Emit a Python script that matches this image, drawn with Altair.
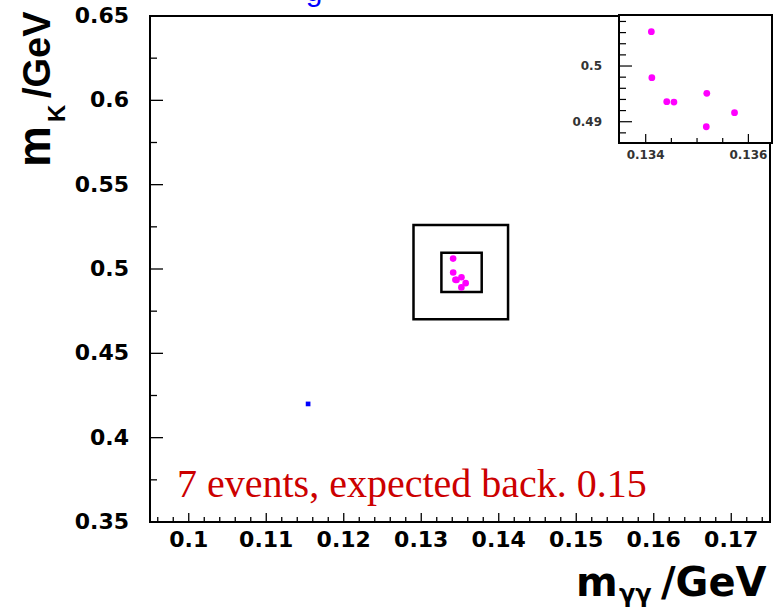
import altair as alt
import pandas as pd

# selected K -> pi0 candidates (m_gamma_gamma, m_K) in GeV
m_gg = [0.13411, 0.13412, 0.13441, 0.13455, 0.13519, 0.13573, 0.13518]
m_k = [0.50616, 0.49790, 0.49359, 0.49353, 0.49510, 0.49162, 0.48910]

# single event outside the signal region
out_gg = [0.1154]
out_k = [0.420]

# outer and inner signal boxes
box_x1 = [0.1290, 0.1326]
box_x2 = [0.1412, 0.1378]
box_y1 = [0.4702, 0.4864]
box_y2 = [0.5261, 0.5097]

# main axes
x_major = [0.10, 0.11, 0.12, 0.13, 0.14, 0.15, 0.16, 0.17]
x_labels = ["0.1", "0.11", "0.12", "0.13", "0.14", "0.15", "0.16", "0.17"]
x_minor = [0.096, 0.098, 0.102, 0.104, 0.106, 0.108, 0.112, 0.114, 0.116, 0.118,
           0.122, 0.124, 0.126, 0.128, 0.132, 0.134, 0.136, 0.138, 0.142, 0.144,
           0.146, 0.148, 0.152, 0.154, 0.156, 0.158, 0.162, 0.164, 0.166, 0.168,
           0.172, 0.174]
y_major = [0.35, 0.40, 0.45, 0.50, 0.55, 0.60, 0.65]
y_labels = ["0.35", "0.4", "0.45", "0.5", "0.55", "0.6", "0.65"]
y_minor = [0.375, 0.425, 0.475, 0.525, 0.575, 0.625]

# zoomed panel axes
ix_major = [0.134, 0.136]
ix_minor = [0.1345, 0.1350, 0.1355]
ix_labels = ["0.134", "0.136"]
iy_major = [0.49, 0.50]
iy_minor = [0.488, 0.492, 0.494, 0.496, 0.498, 0.502, 0.504, 0.506, 0.508]
iy_labels = ["0.49", "0.5"]

W, H = 620, 506
X_DOM = [0.095, 0.175]
Y_DOM = [0.35, 0.65]
IX_DOM = [0.13348, 0.13646]
IY_DOM = [0.48618, 0.50916]
IX_RANGE = [469, 622]
IY_RANGE = [127, -1]

MAGENTA = "#ff00ff"
LABEL_FONT = "DejaVu Sans"

xs = alt.Scale(domain=X_DOM, nice=False, zero=False)
ys = alt.Scale(domain=Y_DOM, nice=False, zero=False)
ixs = alt.Scale(domain=IX_DOM, range=IX_RANGE, nice=False, zero=False)
iys = alt.Scale(domain=IY_DOM, range=IY_RANGE, nice=False, zero=False)

events = pd.DataFrame({"m_gg": m_gg, "m_k": m_k})
outlier = pd.DataFrame({"m_gg": out_gg, "m_k": out_k})
boxes = pd.DataFrame({"x1": box_x1, "x2": box_x2, "y1": box_y1, "y2": box_y2})
one = pd.DataFrame({"a": [0]})

# candidate events on the full plane
main_pts = alt.Chart(events).mark_circle(size=44, color=MAGENTA, opacity=1).encode(
    x=alt.X("m_gg:Q", scale=xs, axis=None),
    y=alt.Y("m_k:Q", scale=ys, axis=None),
)

out_pt = alt.Chart(outlier).mark_square(size=22, color="#0000ff", opacity=1).encode(
    x=alt.X("m_gg:Q", scale=xs, axis=None),
    y=alt.Y("m_k:Q", scale=ys, axis=None),
)

box_marks = alt.Chart(boxes).mark_rect(filled=False, stroke="black", strokeWidth=2.5).encode(
    x=alt.X("x1:Q", scale=xs, axis=None), x2="x2:Q",
    y=alt.Y("y1:Q", scale=ys, axis=None), y2="y2:Q",
)


def xticks(vals, length):
    return alt.Chart(pd.DataFrame({"v": vals})).mark_rule(color="black", strokeWidth=1.3).encode(
        x=alt.X("v:Q", scale=xs, axis=None), y=alt.value(H), y2=alt.value(H - length))


def yticks(vals, length):
    return alt.Chart(pd.DataFrame({"v": vals})).mark_rule(color="black", strokeWidth=1.3).encode(
        y=alt.Y("v:Q", scale=ys, axis=None), x=alt.value(0), x2=alt.value(length))


x_text = alt.Chart(pd.DataFrame({"v": x_major, "t": x_labels})).mark_text(
    font=LABEL_FONT, fontSize=22, fontWeight="bold", color="black",
    baseline="alphabetic", align="center").encode(
    x=alt.X("v:Q", scale=xs, axis=None), y=alt.value(H + 25), text="t:N")

y_text = alt.Chart(pd.DataFrame({"v": y_major, "t": y_labels})).mark_text(
    font=LABEL_FONT, fontSize=22, fontWeight="bold", color="black",
    baseline="middle", align="right").encode(
    y=alt.Y("v:Q", scale=ys, axis=None), x=alt.value(-21), text="t:N")


def label(text, x, y, size, font="Liberation Sans", weight="bold", color="black",
          angle=0, align="left"):
    return alt.Chart(one).mark_text(text=text, font=font, fontSize=size, fontWeight=weight,
                                    color=color, angle=angle, align=align,
                                    baseline="alphabetic").encode(
        x=alt.value(x), y=alt.value(y))


titles = [
    label("m", 426, 580, 40, font=LABEL_FONT),
    label("γγ", 469, 586, 24, font=LABEL_FONT),
    label("/GeV", 511, 580, 40, font=LABEL_FONT),
    label("m", -100, 151, 46, angle=270),
    label("K", -85, 106, 24, angle=270),
    label("/GeV", -100, 82, 38, angle=270),
    label("7 events, expected back. 0.15", 27, 481, 40, font="Liberation Serif",
          weight="normal", color="#cc0000"),
    label("g", 164, -15, 30, weight="normal", color="#0000ff", align="center"),
]

main = alt.layer(
    box_marks, out_pt, main_pts,
    xticks(x_major, 9), xticks(x_minor, 5),
    yticks(y_major, 13), yticks(y_minor, 7),
    x_text, y_text,
    *titles,
)

# zoomed view of the signal region, top right
inset_frame = alt.Chart(one).mark_rect(fill="white", stroke="black", strokeWidth=2).encode(
    x=alt.value(IX_RANGE[0]), x2=alt.value(IX_RANGE[1]),
    y=alt.value(IY_RANGE[1]), y2=alt.value(IY_RANGE[0]),
)

inset_pts = alt.Chart(events).mark_circle(size=46, color=MAGENTA, opacity=1).encode(
    x=alt.X("m_gg:Q", scale=ixs, axis=None),
    y=alt.Y("m_k:Q", scale=iys, axis=None),
)


def ixticks(vals, length):
    return alt.Chart(pd.DataFrame({"v": vals})).mark_rule(color="black", strokeWidth=1.2).encode(
        x=alt.X("v:Q", scale=ixs, axis=None),
        y=alt.value(IY_RANGE[0]), y2=alt.value(IY_RANGE[0] - length))


def iyticks(vals, length):
    return alt.Chart(pd.DataFrame({"v": vals})).mark_rule(color="black", strokeWidth=1.2).encode(
        y=alt.Y("v:Q", scale=iys, axis=None),
        x=alt.value(IX_RANGE[0]), x2=alt.value(IX_RANGE[0] + length))


ix_text = alt.Chart(pd.DataFrame({"v": ix_major, "t": ix_labels})).mark_text(
    font=LABEL_FONT, fontSize=12, fontWeight="bold", color="#333333",
    baseline="middle", align="center").encode(
    x=alt.X("v:Q", scale=ixs, axis=None), y=alt.value(IY_RANGE[0] + 12), text="t:N")

iy_text = alt.Chart(pd.DataFrame({"v": iy_major, "t": iy_labels})).mark_text(
    font=LABEL_FONT, fontSize=12, fontWeight="bold", color="#333333",
    baseline="middle", align="right").encode(
    y=alt.Y("v:Q", scale=iys, axis=None), x=alt.value(IX_RANGE[0] - 17), text="t:N")

inset = alt.layer(
    inset_frame, inset_pts,
    ixticks(ix_major, 9), ixticks(ix_minor, 5),
    iyticks(iy_major, 13), iyticks(iy_minor, 7),
    ix_text, iy_text,
)

chart = alt.layer(main, inset).resolve_scale(
    x="independent", y="independent"
).properties(
    width=W, height=H,
    autosize=alt.AutoSizeParams(type="none"),
    padding={"left": 150, "top": 16, "right": 3, "bottom": 86},
    background="white",
).configure_view(stroke="black", strokeWidth=2)

chart.save("out.html", embed_options={"renderer": "svg", "actions": False})
